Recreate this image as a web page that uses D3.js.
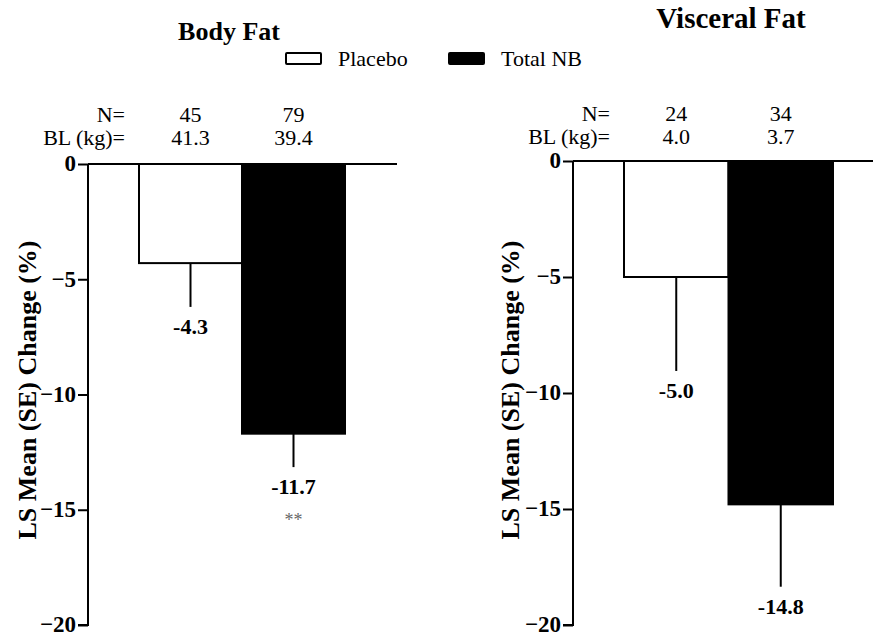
<!DOCTYPE html>
<html>
<head>
<meta charset="utf-8">
<script src="https://cdn.jsdelivr.net/npm/d3@7"></script>
<style>
  body { margin: 0; background: #fff; }
  svg text { font-family: "Liberation Serif", "Times New Roman", Tinos, "DejaVu Serif", serif !important; }
</style>
</head>
<body>
<svg id="chart" width="873" height="635"></svg>
<script>
// data
const panels = ["Body Fat", "Visceral Fat"];
const groups = ["Placebo", "Total NB"];
const groupFill = ["#fff", "#000"];
const bodyMeans = [-4.3, -11.7];
const bodySE = [1.9, 1.45];
const bodyN = ["45", "79"];
const bodyBL = ["41.3", "39.4"];
const viscMeans = [-5.0, -14.8];
const viscSE = [4.05, 3.55];
const viscN = ["24", "34"];
const viscBL = ["4.0", "3.7"];
const sigMarks = [["", "**"], ["", ""]];
const yTicks = [0, -5, -10, -15, -20];

const svg = d3.select("#chart");
const serif = "Liberation Serif";

// layout for each panel
const layouts = [
  { axisX: 88, y0: 164, y1: 625, barL: 139, barR: 345, lineEnd: 397,
    titleX: 229, titleY: 40, titleSize: 26, labX: 27, nY: 122, blY: 145 },
  { axisX: 573, y0: 161, y1: 625, barL: 624, barR: 833, lineEnd: 873,
    titleX: 731, titleY: 28, titleSize: 29, labX: 510, nY: 121, blY: 144 }
];
const panelData = [
  { means: bodyMeans, se: bodySE, n: bodyN, bl: bodyBL },
  { means: viscMeans, se: viscSE, n: viscN, bl: viscBL }
];

layouts.forEach((lay, p) => {
  const d = panelData[p];
  const g = svg.append("g");

  const y = d3.scaleLinear().domain([0, -20]).range([lay.y0, lay.y1]);
  const x = d3.scaleBand().domain(groups).range([lay.barL, lay.barR]).padding(0);

  // title
  g.append("text")
    .attr("x", lay.titleX).attr("y", lay.titleY)
    .attr("text-anchor", "middle")
    .attr("font-family", serif)
    .attr("font-size", lay.titleSize + "px").attr("font-weight", "bold")
    .text(panels[p]);

  // bars
  g.selectAll("rect.bar").data(groups).join("rect")
    .attr("class", "bar")
    .attr("x", k => x(k))
    .attr("y", y(0))
    .attr("width", x.bandwidth())
    .attr("height", (k, i) => y(d.means[i]) - y(0))
    .attr("fill", (k, i) => groupFill[i])
    .attr("stroke", "#000")
    .attr("stroke-width", 2);

  // error bars (downward only)
  g.selectAll("line.err").data(groups).join("line")
    .attr("class", "err")
    .attr("x1", k => x(k) + x.bandwidth() / 2)
    .attr("x2", k => x(k) + x.bandwidth() / 2)
    .attr("y1", (k, i) => y(d.means[i]))
    .attr("y2", (k, i) => y(d.means[i] - d.se[i]))
    .attr("stroke", "#000")
    .attr("stroke-width", 2);

  // value labels
  g.selectAll("text.val").data(groups).join("text")
    .attr("class", "val")
    .attr("x", k => x(k) + x.bandwidth() / 2)
    .attr("y", (k, i) => y(d.means[i] - d.se[i]) + 27)
    .attr("text-anchor", "middle")
    .attr("font-family", serif)
    .attr("font-size", "22px").attr("font-weight", "bold")
    .text((k, i) => d.means[i].toFixed(1));

  g.selectAll("text.sig").data(groups).join("text")
    .attr("class", "sig")
    .attr("x", k => x(k) + x.bandwidth() / 2)
    .attr("y", (k, i) => y(d.means[i] - d.se[i]) + 59)
    .attr("text-anchor", "middle")
    .attr("font-family", serif)
    .attr("font-size", "18px").attr("fill", "#666")
    .text((k, i) => sigMarks[p][i]);

  // y axis
  const yAxis = g.append("g")
    .attr("transform", `translate(${lay.axisX},0)`)
    .call(d3.axisLeft(y).tickValues(yTicks).tickSize(10).tickPadding(2).tickFormat(d3.format("d")));
  yAxis.select(".domain").attr("stroke-width", 2).attr("d", `M-10,${lay.y1}H0V${lay.y0}`);
  yAxis.selectAll(".tick line").attr("stroke-width", 2);
  yAxis.selectAll(".tick text")
    .attr("font-size", "23px").attr("font-weight", "bold")
    .attr("dy", "0.3em")
    .attr("font-family", serif).attr("fill", "#000");

  // zero line
  g.append("line")
    .attr("x1", lay.axisX).attr("x2", lay.lineEnd)
    .attr("y1", y(0)).attr("y2", y(0))
    .attr("stroke", "#000").attr("stroke-width", 2);

  // y axis label
  g.append("text")
    .attr("transform", `translate(${lay.labX},390) rotate(-90)`)
    .attr("text-anchor", "middle")
    .attr("dy", "0.35em")
    .attr("font-family", serif)
    .attr("font-size", "26px").attr("font-weight", "bold")
    .text("LS Mean (SE) Change (%)");

  // N and baseline rows
  g.append("text").attr("x", lay.axisX + 37).attr("y", lay.nY)
    .attr("text-anchor", "end").attr("font-family", serif).attr("font-size", "22px").text("N=");
  g.append("text").attr("x", lay.axisX + 37).attr("y", lay.blY)
    .attr("text-anchor", "end").attr("font-family", serif).attr("font-size", "22px").text("BL (kg)=");
  g.selectAll("text.n").data(groups).join("text")
    .attr("class", "n")
    .attr("x", k => x(k) + x.bandwidth() / 2)
    .attr("y", lay.nY)
    .attr("text-anchor", "middle").attr("font-family", serif).attr("font-size", "22px")
    .text((k, i) => d.n[i]);
  g.selectAll("text.bl").data(groups).join("text")
    .attr("class", "bl")
    .attr("x", k => x(k) + x.bandwidth() / 2)
    .attr("y", lay.blY)
    .attr("text-anchor", "middle").attr("font-family", serif).attr("font-size", "22px")
    .text((k, i) => d.bl[i]);
});

// legend
const legX = [286, 449];
const leg = svg.append("g");
groups.forEach((k, i) => {
  leg.append("rect")
    .attr("x", legX[i]).attr("y", 53).attr("width", 35).attr("height", 11)
    .attr("fill", groupFill[i]).attr("stroke", "#000").attr("stroke-width", 2).attr("rx", 1);
  leg.append("text")
    .attr("x", legX[i] + 52).attr("y", 66)
    .attr("font-family", serif)
    .attr("font-size", "22px")
    .text(k);
});
</script>
</body>
</html>
